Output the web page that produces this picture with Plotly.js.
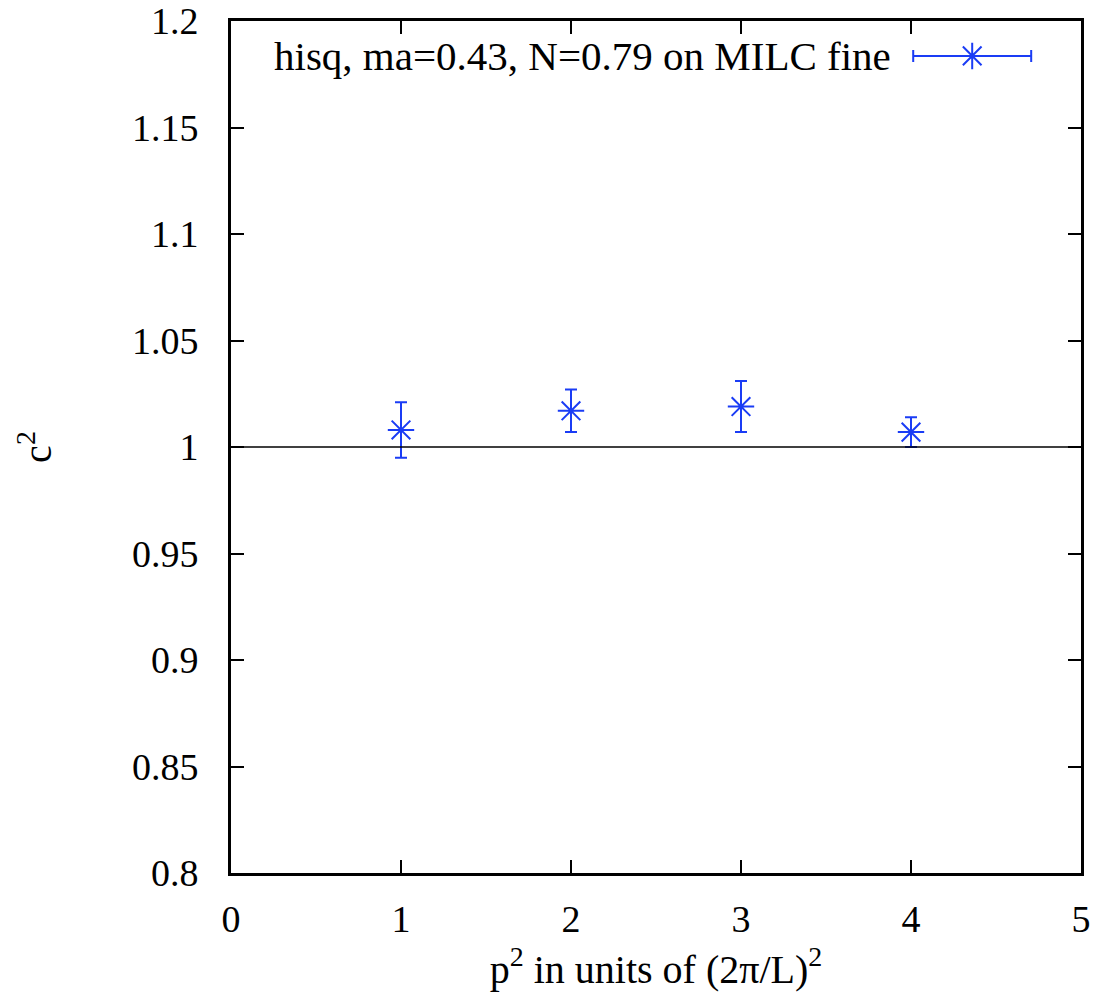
<!DOCTYPE html>
<html>
<head>
<meta charset="utf-8">
<script src="https://cdn.plot.ly/plotly-3.0.1.min.js"></script>
<style>html,body{margin:0;padding:0;background:#fff;}</style>
</head>
<body>
<div id="chart" style="width:1099px;height:1001px;"></div>
<script>
// Data
const p2 = [1, 2, 3, 4];
const c2 = [1.008, 1.017, 1.019, 1.007];
const c2err = [0.013, 0.010, 0.012, 0.007];
const xTicks = [0, 1, 2, 3, 4, 5];
const yTicks = [0.8, 0.85, 0.9, 0.95, 1, 1.05, 1.1, 1.15, 1.2];
const yTickText = ['0.8', '0.85', '0.9', '0.95', '1', '1.05', '1.1', '1.15', '1.2'];
const legendLabel = 'hisq, ma=0.43, N=0.79 on MILC fine';
// legend sample glyph position (overlay axis, 0..1)
const legendX = [0.872];
const legendY = [0.959];
const legendHalfWidth = [0.0694];

const blue = '#1a3cf5';
const font = 'Liberation Serif, Times New Roman, serif';
const fs = 38;

const data = [
  {
    x: p2, y: c2, type: 'scatter', mode: 'markers',
    marker: {symbol: 'asterisk-open', size: 22, color: blue, line: {color: blue, width: 2}},
    error_y: {type: 'data', array: c2err, visible: true, color: blue, thickness: 2, width: 6},
    showlegend: false, hoverinfo: 'skip'
  },
  {
    x: legendX, y: legendY, xaxis: 'x2', yaxis: 'y2', type: 'scatter', mode: 'markers',
    marker: {symbol: 'asterisk-open', size: 22, color: blue, line: {color: blue, width: 2}},
    error_x: {type: 'data', array: legendHalfWidth, visible: true, color: blue, thickness: 2, width: 6},
    showlegend: false, hoverinfo: 'skip'
  }
];

const axisCommon = {
  showgrid: false, zeroline: false,
  showline: true, linecolor: '#000', linewidth: 3, mirror: 'ticks',
  ticks: 'inside', ticklen: 13, tickwidth: 2, tickcolor: '#000',
  tickfont: {family: font, size: fs, color: '#000'}
};

const layout = {
  width: 1099, height: 1001,
  margin: {l: 231, r: 18, t: 21, b: 128},
  paper_bgcolor: '#fff', plot_bgcolor: '#fff',
  showlegend: false,
  xaxis: Object.assign({}, axisCommon, {
    range: [0, 5], tickvals: xTicks, ticktext: xTicks.map(String),
    ticklabelstandoff: 10,
    title: {text: 'p<sup>2</sup> in units of (2π/L)<sup>2</sup>', font: {family: font, size: 40, color: '#000'}, standoff: 17}
  }),
  yaxis: Object.assign({}, axisCommon, {
    range: [0.8, 1.2], tickvals: yTicks, ticktext: yTickText,
    ticklabelstandoff: 22,
    title: {text: 'c<sup>2</sup>', font: {family: font, size: 40, color: '#000'}, standoff: 68}
  }),
  xaxis2: {range: [0, 1], overlaying: 'x', visible: false, fixedrange: true},
  yaxis2: {range: [0, 1], overlaying: 'y', visible: false, fixedrange: true},
  shapes: [
    {type: 'line', xref: 'x', yref: 'y', x0: 0, x1: 5, y0: 1, y1: 1, line: {color: '#000', width: 1.5}}
  ],
  annotations: [
    {text: legendLabel, xref: 'paper', yref: 'paper', x: 0.779, y: 0.959, xanchor: 'right', yanchor: 'middle',
     showarrow: false, font: {family: font, size: 41, color: '#000'}}
  ]
};

Plotly.newPlot('chart', data, layout, {displayModeBar: false, staticPlot: true});
</script>
</body>
</html>
